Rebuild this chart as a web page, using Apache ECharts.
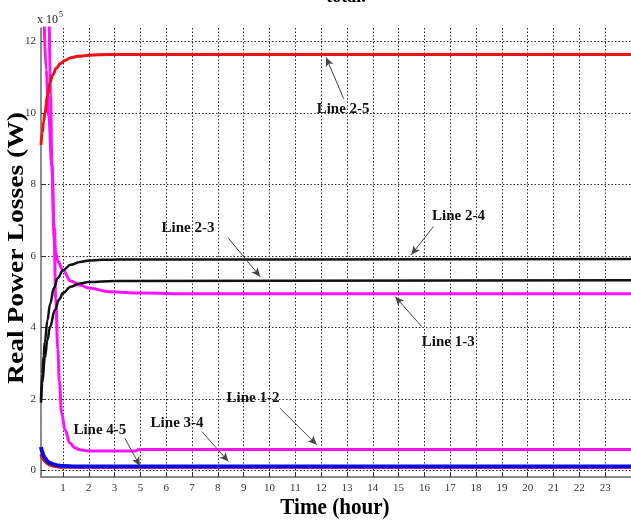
<!DOCTYPE html>
<html>
<head>
<meta charset="utf-8">
<script src="https://cdn.jsdelivr.net/npm/echarts@6/dist/echarts.min.js"></script>
<style>
  html, body { margin: 0; padding: 0; background: #ffffff; }
  #chart { width: 631px; height: 525px; }
</style>
</head>
<body>
<div id="chart"></div>
<script>
// Tick positions along the time axis and the labels printed under them
const tickPositions = [1, 2, 3, 4, 5, 6, 7, 8, 9, 10, 11, 12, 13, 14, 15, 16, 17, 18, 19, 20, 21, 22];
const tickLabels = ['1', '2', '3', '5', '6', '7', '8', '9', '10', '11', '12', '13', '14', '15', '16', '17', '18', '19', '20', '21', '22', '23'];
const yTicks = [0, 2, 4, 6, 8, 10, 12];

// Real power losses per line, in units of 10^5 W : [time position, loss]
const loss25 = [[0.15, 9.1], [0.2, 9.45], [0.25, 9.75], [0.3, 9.98], [0.4, 10.45], [0.5, 10.85], [0.6, 11.05], [0.75, 11.25], [0.9, 11.38], [1.1, 11.47], [1.3, 11.54], [1.6, 11.58], [2.0, 11.61], [2.8, 11.63], [23, 11.63]];
const loss24 = [[0.15, 2.0], [0.2, 2.7], [0.25, 3.2], [0.3, 3.6], [0.4, 4.2], [0.5, 4.65], [0.65, 5.1], [0.8, 5.38], [1.0, 5.6], [1.3, 5.75], [1.66, 5.83], [2.0, 5.87], [2.5, 5.89], [3.2, 5.9], [23, 5.91]];
const loss23 = [[0.15, 1.9], [0.2, 2.45], [0.3, 3.15], [0.4, 3.65], [0.5, 4.02], [0.69, 4.49], [0.85, 4.78], [1.0, 4.96], [1.3, 5.14], [1.66, 5.23], [2.0, 5.27], [3.0, 5.3], [23, 5.32]];
const loss13 = [[0.27, 12.6], [0.35, 11.2], [0.45, 9.9], [0.57, 8.5], [0.66, 6.8], [0.72, 6.1], [0.8, 5.85], [1.0, 5.6], [1.3, 5.3], [1.66, 5.19], [2.0, 5.1], [2.8, 5.0], [4, 4.96], [6, 4.94], [23, 4.94]];
const loss12 = [[0.47, 12.6], [0.52, 10.5], [0.57, 8.6], [0.66, 6.5], [0.72, 4.8], [0.8, 3.4], [0.86, 2.5], [0.95, 1.6], [1.08, 1.14], [1.27, 0.77], [1.45, 0.64], [1.66, 0.58], [2.0, 0.55], [3.8, 0.55], [3.95, 0.59], [23, 0.59]];
const loss34 = [[0.15, 0.46], [0.2, 0.36], [0.25, 0.3], [0.3, 0.25], [0.4, 0.19], [0.5, 0.15], [0.65, 0.12], [0.8, 0.1], [1.0, 0.09], [23, 0.09]];
const loss45 = [[0.15, 0.66], [0.2, 0.52], [0.25, 0.42], [0.3, 0.35], [0.4, 0.26], [0.5, 0.21], [0.65, 0.17], [0.8, 0.14], [1.0, 0.125], [1.5, 0.115], [2, 0.11], [23, 0.11]];

// Callout labels: [text, label position, arrow tail, arrow head]
const callouts = [
  ['Line 2-5', [11.85, 10.1], [11.87, 10.4], [11.19, 11.55]],
  ['Line 2-4', [16.32, 7.11], [15.35, 6.82], [14.49, 6.03]],
  ['Line 2-3', [5.84, 6.79], [7.41, 6.49], [8.64, 5.42]],
  ['Line 1-3', [15.92, 3.6], [14.9, 4.02], [13.87, 4.86]],
  ['Line 1-2', [8.36, 2.03], [9.41, 1.74], [10.83, 0.72]],
  ['Line 3-4', [5.42, 1.33], [6.38, 1.09], [7.41, 0.25]],
  ['Line 4-5', [2.43, 1.14], [3.4, 0.9], [3.98, 0.13]]
];

const serif = "'Liberation Serif', 'Times New Roman', serif";

function curve(name, data, color, width) {
  return {
    name: name,
    type: 'line',
    data: data,
    showSymbol: false,
    smooth: 0.4,
    smoothMonotone: 'x',
    clip: true,
    lineStyle: { color: color, width: width },
    itemStyle: { color: color },
    silent: true
  };
}

const gridLine = { show: true, lineStyle: { color: '#2a2a2a', width: 1, type: [1.5, 2] } };

const chart = echarts.init(document.getElementById('chart'), null, { renderer: 'canvas' });

chart.setOption({
  animation: false,
  backgroundColor: '#ffffff',
  grid: { left: 41, right: 0, top: 28, bottom: 48, containLabel: false, outerBoundsMode: 'none' },
  xAxis: {
    type: 'value',
    min: 0.15,
    max: 23,
    axisLine: { show: true, onZero: false, lineStyle: { color: '#666', width: 1.5 } },
    axisTick: { show: true, inside: true, length: 5, customValues: tickPositions, lineStyle: { color: '#333' } },
    axisLabel: {
      customValues: tickPositions,
      formatter: function (v) { return tickLabels[tickPositions.indexOf(Math.round(v))] || ''; },
      fontFamily: serif, fontSize: 11, color: '#333', margin: 6
    },
    splitLine: gridLine
  },
  yAxis: {
    type: 'value',
    min: -0.18,
    max: 12.37,
    axisLine: { show: true, onZero: false, lineStyle: { color: '#666', width: 1.5 } },
    axisTick: { show: true, inside: true, length: 5, customValues: yTicks, lineStyle: { color: '#333' } },
    axisLabel: { customValues: yTicks, fontFamily: serif, fontSize: 11, color: '#333', margin: 5 },
    splitLine: gridLine
  },
  series: [
    curve('Line 3-4', loss34, '#e8101a', 3),
    curve('Line 4-5', loss45, '#0a0ae0', 4),
    curve('Line 1-2', loss12, '#ff10ff', 3),
    curve('Line 1-3', loss13, '#ff10ff', 3),
    curve('Line 2-3', loss23, '#111111', 2.5),
    curve('Line 2-4', loss24, '#111111', 2.5),
    curve('Line 2-5', loss25, '#ee1111', 3),
    {
      name: 'callouts',
      type: 'line',
      data: [],
      silent: true,
      markLine: {
        silent: true,
        symbol: ['none', 'arrow'],
        symbolSize: [6, 9],
        label: { show: false },
        lineStyle: { color: '#444', width: 1, type: 'solid' },
        data: callouts.map(c => [{ coord: c[2] }, { coord: c[3] }])
      },
      markPoint: {
        silent: true,
        symbol: 'rect',
        symbolSize: 1,
        itemStyle: { color: 'rgba(0,0,0,0)' },
        label: {
          show: true,
          position: 'inside',
          formatter: '{b}',
          fontFamily: serif,
          fontSize: 15,
          fontWeight: 'bold',
          color: '#111'
        },
        data: callouts.map(c => ({ name: c[0], coord: c[1] }))
      }
    }
  ],
  graphic: [
    {
      type: 'text',
      left: 37,
      top: 11,
      style: {
        text: '{b|x 10}{s|5}',
        rich: {
          b: { fontFamily: serif, fontSize: 12, fill: '#222', verticalAlign: 'bottom' },
          s: { fontFamily: serif, fontSize: 8, fill: '#222', verticalAlign: 'top', padding: [0, 0, 7, 1] }
        }
      }
    },
    {
      // vertical axis title
      type: 'text',
      x: 17,
      y: 248,
      rotation: Math.PI / 2,
      scaleX: 1.15,
      style: {
        text: 'Real Power Losses (W)',
        fontFamily: serif,
        fontSize: 24,
        fontWeight: 'bold',
        fill: '#000',
        align: 'center',
        verticalAlign: 'middle'
      }
    },
    {
      // horizontal axis title
      type: 'text',
      x: 335,
      y: 508,
      scaleX: 0.88,
      style: {
        text: 'Time (hour)',
        fontFamily: serif,
        fontSize: 24,
        fontWeight: 'bold',
        fill: '#000',
        align: 'center',
        verticalAlign: 'middle'
      }
    },
    {
      type: 'text',
      x: 346,
      y: -3,
      style: {
        text: 'total.',
        fontFamily: serif,
        fontSize: 18,
        fontWeight: 'bold',
        fill: '#000',
        align: 'center',
        verticalAlign: 'middle'
      }
    }
  ]
});
</script>
</body>
</html>
